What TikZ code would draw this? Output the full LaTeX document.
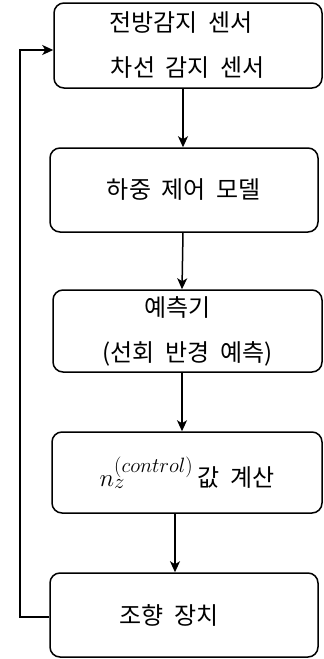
\documentclass[tikz,border=0pt]{standalone}
\usepackage{fontspec}
\newfontfamily\kr{Noto Sans CJK KR}
\usetikzlibrary{arrows.meta,calc}
\newcommand{\gap}{\hspace{0.45em}}
\begin{document}
\begin{tikzpicture}[x=1pt,y=1pt,
  box/.style={draw, line width=1.5pt, rounded corners=10pt, minimum width=268pt,
    minimum height=84pt, inner sep=0pt, align=center,
    font=\kr\fontsize{24}{45}\selectfont},
  arr/.style={line width=1.5pt, -{Stealth[length=11pt,width=10pt,inset=3pt]}}]
\useasboundingbox (0,0) rectangle (324,-659);
\node[box, minimum height=85pt] (b1) at (188,-45.5) {\hspace*{-14pt}전방감지\gap 센서\\차선\gap 감지\gap 센서};
\node[box] (b2) at (184,-190) {하중\gap 제어\gap 모델};
\node[box, minimum height=82pt, minimum width=269pt] (b3) at (187.5,-331) {\hspace*{-20pt}예측기\\(선회\gap 반경\gap 예측)};
\node[box, minimum height=81pt, minimum width=270pt] (b4) at (187,-472.5) {{\fontsize{28}{30}\selectfont$n_z^{(control)}$}\,값\gap 계산};
\node[box] (b5) at (184,-615) {\hspace*{-30pt}조향\gap 장치};
\coordinate (c1) at (20,-617);
\coordinate (c2) at (20,-50);
\draw[arr] ($(b1.south)+(-5,0)$) -- ($(b2.north)+(-1,0)$);
\draw[arr] ($(b2.south)+(-1,0)$) -- ($(b3.north)+(-5.5,0)$);
\draw[arr] ($(b3.south)+(-5.5,0)$) -- ($(b4.north)+(-5,0)$);
\draw[arr] ($(b4.south)+(-12,0)$) -- ($(b5.north)+(-9,0)$);
\draw[arr] ($(b5.west)+(0,-2)$) -- (c1) -- (c2) -- ($(b1.west)+(0,-4.5)$);
\end{tikzpicture}
\end{document}
